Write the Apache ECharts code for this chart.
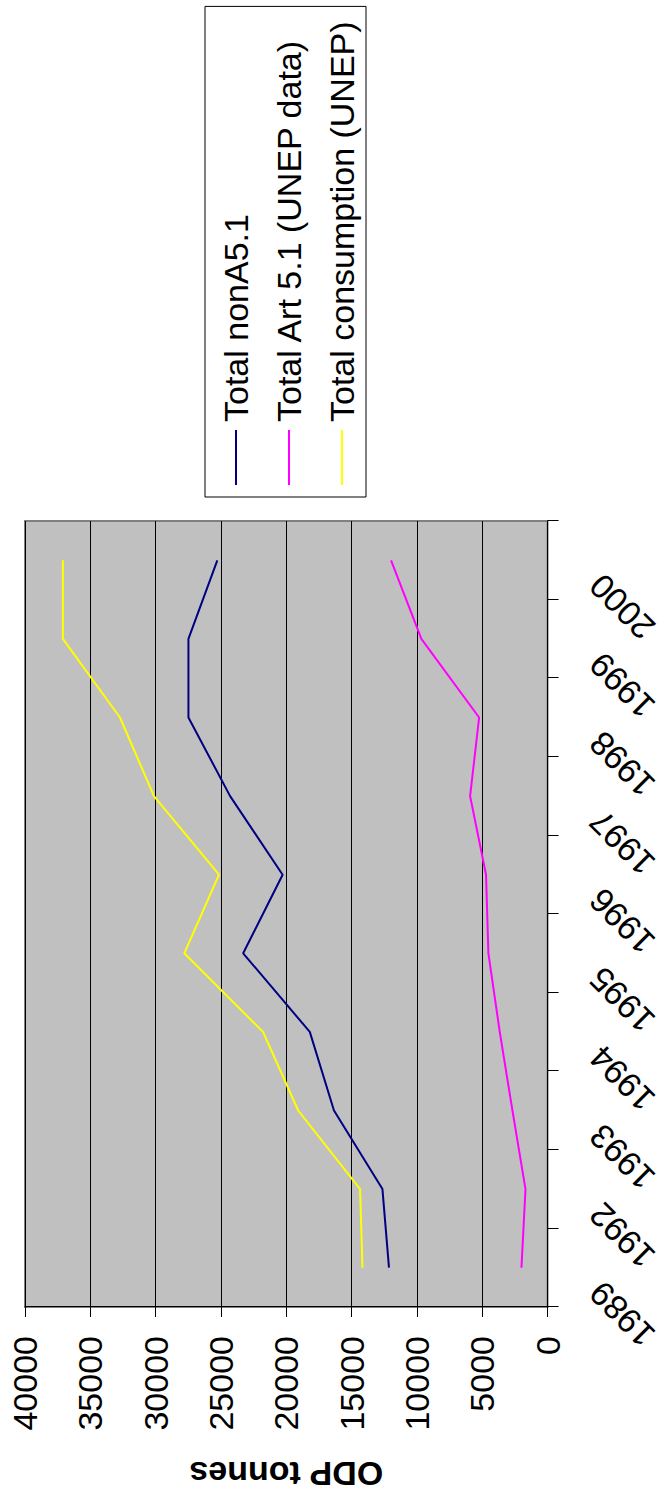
<!DOCTYPE html>
<html><head><meta charset="utf-8">
<script src="https://cdn.jsdelivr.net/npm/echarts@6/dist/echarts.min.js"></script>
<style>
html,body{margin:0;padding:0;width:663px;height:1499px;overflow:hidden;background:#fff;}
#chart{position:absolute;left:0;top:0;width:1499px;height:663px;transform-origin:0 0;transform:translate(0,1499px) rotate(-90deg);}
</style></head><body><div id="chart"></div>
<script>
// Data (chart is drawn in landscape and the page turns it 90 degrees, as in the reference)
const years = ['1989', '1992', '1993', '1994', '1995', '1996', '1997', '1998', '1999', '2000'];
const seriesNames = ['Total nonA5.1', 'Total Art 5.1 (UNEP data)', 'Total consumption (UNEP)'];
const totalNonA51 = [12140, 12640, 16350, 18200, 23300, 20280, 24300, 27490, 27490, 25280];
const totalArt51 = [2000, 1690, 2690, 3660, 4530, 4710, 5930, 5240, 9660, 11980];
const totalConsumption = [14170, 14350, 19090, 21780, 27810, 25150, 30130, 32730, 37100, 37100];
const valueMin = 0, valueMax = 40000, valueStep = 5000;
const valueAxisTitle = 'ODP tonnes';

const colors = ['#000080', '#FF00FF', '#FFFF00'];
const FONT = 'Liberation Sans, Arial, sans-serif';
const legendIcon = 'path://M0,0M0,16L55,16L55,18L0,18ZM58,34';

const chart = echarts.init(document.getElementById('chart'), null, {renderer: 'svg', width: 1499, height: 663});
const values = [totalNonA51, totalArt51, totalConsumption];
chart.setOption({
  animation: false,
  backgroundColor: '#ffffff',
  textStyle: {fontFamily: FONT},
  grid: {left: 190, right: 521, top: 25, bottom: 114, show: true, backgroundColor: '#C0C0C0', borderColor: '#808080', borderWidth: 2},
  legend: {
    left: 1002, top: 205, orient: 'vertical',
    padding: [14, 15, 7, 12], itemGap: 19,
    itemWidth: 58, itemHeight: 34,
    backgroundColor: '#ffffff', borderColor: '#000000', borderWidth: 1,
    textStyle: {fontFamily: FONT, fontSize: 34, color: '#000'},
    data: seriesNames.map(n => ({name: n, icon: legendIcon}))
  },
  xAxis: {
    type: 'category', data: years, boundaryGap: true,
    axisLine: {show: true, lineStyle: {color: '#000', width: 1}},
    axisTick: {show: true, length: 11, alignWithLabel: false, lineStyle: {color: '#000'}},
    axisLabel: {rotate: 45, interval: 0, margin: 28, padding: [0, 28, 0, 0], fontSize: 34, color: '#000', fontFamily: FONT},
    splitLine: {show: false}
  },
  yAxis: {
    type: 'value', min: valueMin, max: valueMax, interval: valueStep,
    name: valueAxisTitle, nameLocation: 'middle', nameGap: 150,
    nameTextStyle: {fontSize: 34, fontWeight: 'bold', color: '#000', fontFamily: FONT},
    axisLine: {show: true, lineStyle: {color: '#000', width: 1}},
    axisTick: {show: true, length: 10, lineStyle: {color: '#000'}},
    axisLabel: {margin: 29, fontSize: 34, color: '#000', fontFamily: FONT, formatter: v => String(v)},
    splitLine: {show: true, lineStyle: {color: '#000', width: 1}}
  },
  series: seriesNames.map((n, i) => ({
    name: n, type: 'line', data: values[i], symbol: 'none', showSymbol: false,
    lineStyle: {color: colors[i], width: 2}, itemStyle: {color: colors[i]}
  }))
});
</script></body></html>
